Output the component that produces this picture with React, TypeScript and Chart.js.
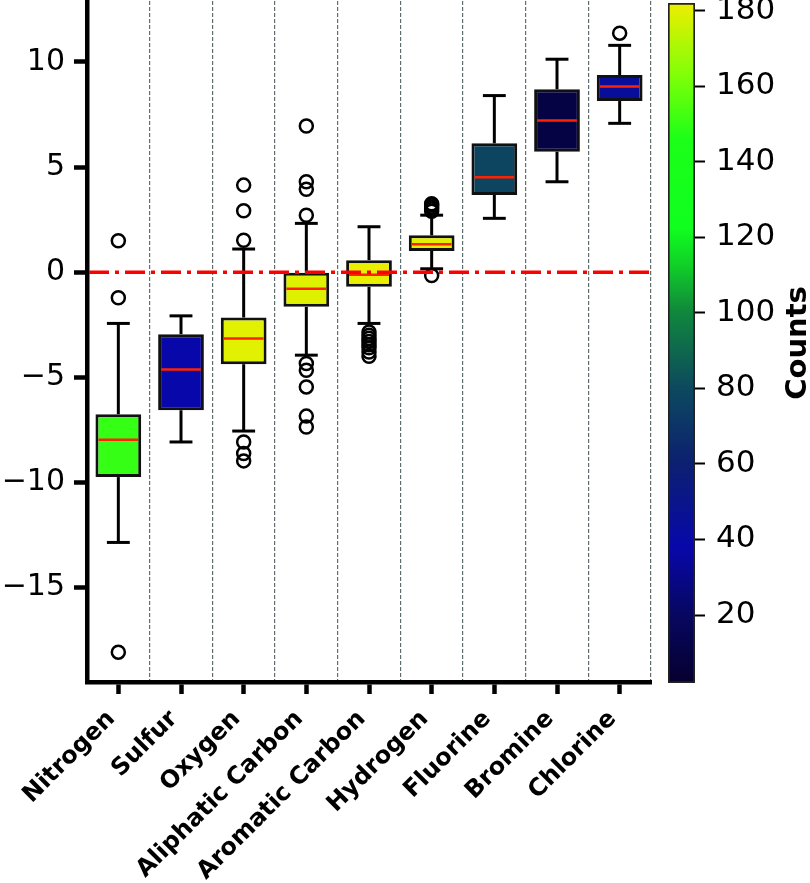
import React, { useEffect, useRef } from 'react';
import { Chart, registerables } from 'chart.js';

Chart.register(...registerables);

// ---------------- data ----------------
const categories = [
  'Nitrogen',
  'Sulfur',
  'Oxygen',
  'Aliphatic Carbon',
  'Aromatic Carbon',
  'Hydrogen',
  'Fluorine',
  'Bromine',
  'Chlorine',
];
const counts = [150, 38, 180, 179, 181, 180, 78, 10, 44];
const lowerWhisker = [-12.86, -8.08, -7.56, -3.95, -2.44, 0.16, 2.56, 4.3, 7.08];
const q1 = [-9.75, -6.57, -4.38, -1.65, -0.7, 1.01, 3.67, 5.73, 8.14];
const medians = [-7.97, -4.63, -3.16, -0.79, -0.12, 1.33, 4.51, 7.21, 8.83];
const q3 = [-6.76, -2.95, -2.16, -0.03, 0.57, 1.75, 6.13, 8.7, 9.38];
const upperWhisker = [-2.44, -2.08, 1.1, 2.32, 2.16, 2.71, 8.4, 10.13, 10.79];
const outliers: number[][] = [
  [1.49, -1.22, -18.08],
  [],
  [4.14, 2.92, 1.52, -8.08, -8.63, -8.98],
  [6.95, 4.3, 3.94, 2.71, -4.35, -4.67, -5.46, -6.85, -7.37],
  [-2.85, -3.0, -3.15, -3.3, -3.45, -3.6, -3.8, -4.0],
  [2.9, 3.0, 3.1, 3.2, 3.25, -0.16],
  [],
  [],
  [11.37],
];
const referenceValue = 0;
const yMin = -19.5;
const yMax = 12.9;
const yStep = 5;
const countMin = 2;
const countMax = 182;
const countTicks = [20, 40, 60, 80, 100, 120, 140, 160, 180];
const colorbarTitle = 'Counts';

// colormap (fraction of count range -> colour)
const cmapStops: [number, string][] = [
  [0.0, '#06002e'],
  [0.1, '#070760'],
  [0.2, '#0808aa'],
  [0.324, '#0c2070'],
  [0.436, '#0d4a5e'],
  [0.547, '#10883c'],
  [0.615, '#10d028'],
  [0.67, '#10ff20'],
  [0.8, '#1cff18'],
  [0.894, '#80ff08'],
  [1.0, '#eeee00'],
];

function hexToRgb(h: string): number[] {
  const n = parseInt(h.slice(1), 16);
  return [(n >> 16) & 255, (n >> 8) & 255, n & 255];
}
function cmap(v: number): string {
  const t = Math.min(1, Math.max(0, (v - countMin) / (countMax - countMin)));
  for (let i = 0; i < cmapStops.length - 1; i++) {
    const [f0, c0] = cmapStops[i];
    const [f1, c1] = cmapStops[i + 1];
    if (t >= f0 && t <= f1) {
      const u = (t - f0) / (f1 - f0);
      const a = hexToRgb(c0);
      const b = hexToRgb(c1);
      const r = a.map((x, k) => Math.round(x + (b[k] - x) * u));
      return `rgb(${r[0]},${r[1]},${r[2]})`;
    }
  }
  return cmapStops[cmapStops.length - 1][1];
}

const FONT = 'DejaVu Sans';

const minusFmt = (v: number) => (v < 0 ? '\u2212' + Math.abs(v) : String(v));

const boxExtras = {
  id: 'boxExtras',
  afterDatasetsDraw(chart: any) {
    const { ctx, chartArea } = chart;
    const x = chart.scales.x;
    const y = chart.scales.y;
    const meta = chart.getDatasetMeta(0);
    const seg = (x1: number, y1: number, x2: number, y2: number) => {
      ctx.beginPath();
      ctx.moveTo(x1, y1);
      ctx.lineTo(x2, y2);
      ctx.stroke();
    };
    ctx.save();
    categories.forEach((_, i) => {
      const bar = meta.data[i];
      const cx = x.getPixelForValue(i);
      const half = bar.width / 2;
      const capHalf = half / 2;
      ctx.setLineDash([]);
      ctx.strokeStyle = '#000';
      ctx.lineWidth = 3;
      const yq1 = y.getPixelForValue(q1[i]);
      const yq3 = y.getPixelForValue(q3[i]);
      const ylo = y.getPixelForValue(lowerWhisker[i]);
      const yhi = y.getPixelForValue(upperWhisker[i]);
      seg(cx, yq3, cx, yhi);
      seg(cx, yq1, cx, ylo);
      seg(cx - capHalf, yhi, cx + capHalf, yhi);
      seg(cx - capHalf, ylo, cx + capHalf, ylo);
      ctx.strokeStyle = '#ff2200';
      ctx.lineWidth = 2.5;
      const ym = y.getPixelForValue(medians[i]);
      seg(cx - half + 3, ym, cx + half - 3, ym);
    });
    const y0 = y.getPixelForValue(referenceValue);
    ctx.strokeStyle = '#ff0000';
    ctx.lineWidth = 3.5;
    ctx.setLineDash([20, 6, 4, 6]);
    seg(chartArea.left + 2, y0, chartArea.right, y0);
    ctx.restore();
  },
};

const colorbarTitlePlugin = {
  id: 'cbTitle',
  afterDraw(chart: any) {
    const { ctx, chartArea } = chart;
    ctx.save();
    ctx.translate(138, (chartArea.top + chartArea.bottom) / 2);
    ctx.rotate(-Math.PI / 2);
    ctx.font = `bold 29px "${FONT}"`;
    ctx.fillStyle = '#000';
    ctx.textAlign = 'center';
    ctx.textBaseline = 'middle';
    ctx.fillText(colorbarTitle, 0, 0);
    ctx.restore();
  },
};

const noPadV = (s: any) => {
  s.paddingTop = 0;
  s.paddingBottom = 0;
};

export default function App() {
  const mainRef = useRef<HTMLCanvasElement>(null);
  const cbRef = useRef<HTMLCanvasElement>(null);

  useEffect(() => {
    const outlierPoints = outliers.flatMap((arr, i) =>
      arr.map((v) => ({ x: categories[i], y: v }))
    );
    const main = new Chart(mainRef.current!, {
      type: 'bar',
      data: {
        labels: categories,
        datasets: [
          {
            type: 'bar',
            data: categories.map((_, i) => [q1[i], q3[i]]) as any,
            backgroundColor: counts.map(cmap),
            borderColor: '#111',
            borderWidth: 3,
            borderSkipped: false,
            barPercentage: 0.73,
            categoryPercentage: 1,
            xAxisID: 'x',
            yAxisID: 'y',
            order: 2,
          } as any,
          {
            type: 'line',
            data: outlierPoints as any,
            showLine: false,
            pointStyle: 'circle',
            pointRadius: 6.5,
            pointBorderWidth: 2.5,
            pointBorderColor: '#000',
            pointBackgroundColor: 'rgba(0,0,0,0)',
            borderColor: '#000',
            backgroundColor: 'rgba(0,0,0,0)',
            xAxisID: 'x',
            yAxisID: 'y',
            order: 1,
          } as any,
        ],
      },
      options: {
        animation: false,
        responsive: false,
        events: [],
        layout: { autoPadding: false, padding: { left: 0, top: 1, right: 9, bottom: 0 } },
        plugins: { legend: { display: false }, tooltip: { enabled: false } },
        scales: {
          x: {
            type: 'category',
            position: 'bottom',
            offset: true,
            grid: {
              offset: false,
              drawOnChartArea: false,
              drawTicks: true,
              tickLength: 12,
              tickWidth: 4.5,
              tickColor: '#000',
            },
            border: { display: true, color: '#000', width: 4.5 },
            ticks: {
              autoSkip: false,
              maxRotation: 45,
              minRotation: 45,
              padding: 11,
              labelOffset: -7,
              color: '#000',
              font: { family: FONT, size: 24, weight: 'bold' },
            },
            afterFit: (s: any) => {
              s.height = 201;
              s.paddingLeft = 0;
              s.paddingRight = 0;
            },
          } as any,
          x2: {
            type: 'category',
            labels: categories,
            position: 'bottom',
            offset: true,
            grid: {
              offset: true,
              drawOnChartArea: true,
              drawTicks: false,
              color: '#5f6e6e',
              lineWidth: 1.2,
            },
            border: { display: false, dash: [4, 2] },
            ticks: { display: false },
            afterFit: (s: any) => {
              s.height = 0;
              s.paddingLeft = 0;
              s.paddingRight = 0;
            },
          } as any,
          y: {
            type: 'linear',
            min: yMin,
            max: yMax,
            grid: {
              drawOnChartArea: false,
              drawTicks: true,
              tickLength: 13,
              tickWidth: 4.5,
              tickColor: '#000',
            },
            border: { display: true, color: '#000', width: 4.5 },
            ticks: {
              stepSize: yStep,
              includeBounds: false,
              padding: 9,
              color: '#000',
              font: { family: FONT, size: 30 },
              callback: (v: any) => minusFmt(Number(v)),
            },
            afterFit: (s: any) => {
              s.width = 87;
              noPadV(s);
            },
          } as any,
        },
      },
      plugins: [boxExtras],
    });

    const cb = new Chart(cbRef.current!, {
      type: 'bar',
      data: {
        labels: ['colorbar'],
        datasets: [
          {
            data: [[countMin, countMax]] as any,
            backgroundColor: (c: any) => {
              const ch = c.chart;
              const ys = ch.scales.y;
              if (!ys || !ch.chartArea) return '#000';
              const g = ch.ctx.createLinearGradient(
                0,
                ys.getPixelForValue(countMax),
                0,
                ys.getPixelForValue(countMin)
              );
              cmapStops.forEach(([f, col]) => g.addColorStop(1 - f, col));
              return g;
            },
            borderColor: '#222',
            borderWidth: 2,
            borderSkipped: false,
            barPercentage: 1,
            categoryPercentage: 1,
          } as any,
        ],
      },
      options: {
        animation: false,
        responsive: false,
        events: [],
        layout: { autoPadding: false, padding: { left: 8, top: 3, right: 0, bottom: 200 } },
        plugins: { legend: { display: false }, tooltip: { enabled: false } },
        scales: {
          x: { display: false },
          y: {
            type: 'linear',
            position: 'right',
            min: countMin,
            max: countMax,
            afterBuildTicks: (s: any) => {
              s.ticks = countTicks.map((v) => ({ value: v }));
            },
            grid: {
              drawOnChartArea: false,
              drawTicks: true,
              tickLength: 10,
              tickWidth: 2,
              tickColor: '#000',
            },
            border: { display: false },
            ticks: {
              padding: 11,
              color: '#000',
              font: { family: FONT, size: 31 },
            },
            afterFit: (s: any) => {
              s.width = 115;
              noPadV(s);
            },
          } as any,
        },
      },
      plugins: [colorbarTitlePlugin],
    });

    return () => {
      main.destroy();
      cb.destroy();
    };
  }, []);

  return (
    <div
      style={{
        position: 'absolute',
        left: 0,
        top: 0,
        width: 810,
        height: 883,
        background: '#fff',
      }}
    >
      <canvas
        ref={mainRef}
        width={660}
        height={883}
        style={{ position: 'absolute', left: 0, top: 0 }}
      />
      <canvas
        ref={cbRef}
        width={150}
        height={883}
        style={{ position: 'absolute', left: 660, top: 0 }}
      />
    </div>
  );
}
